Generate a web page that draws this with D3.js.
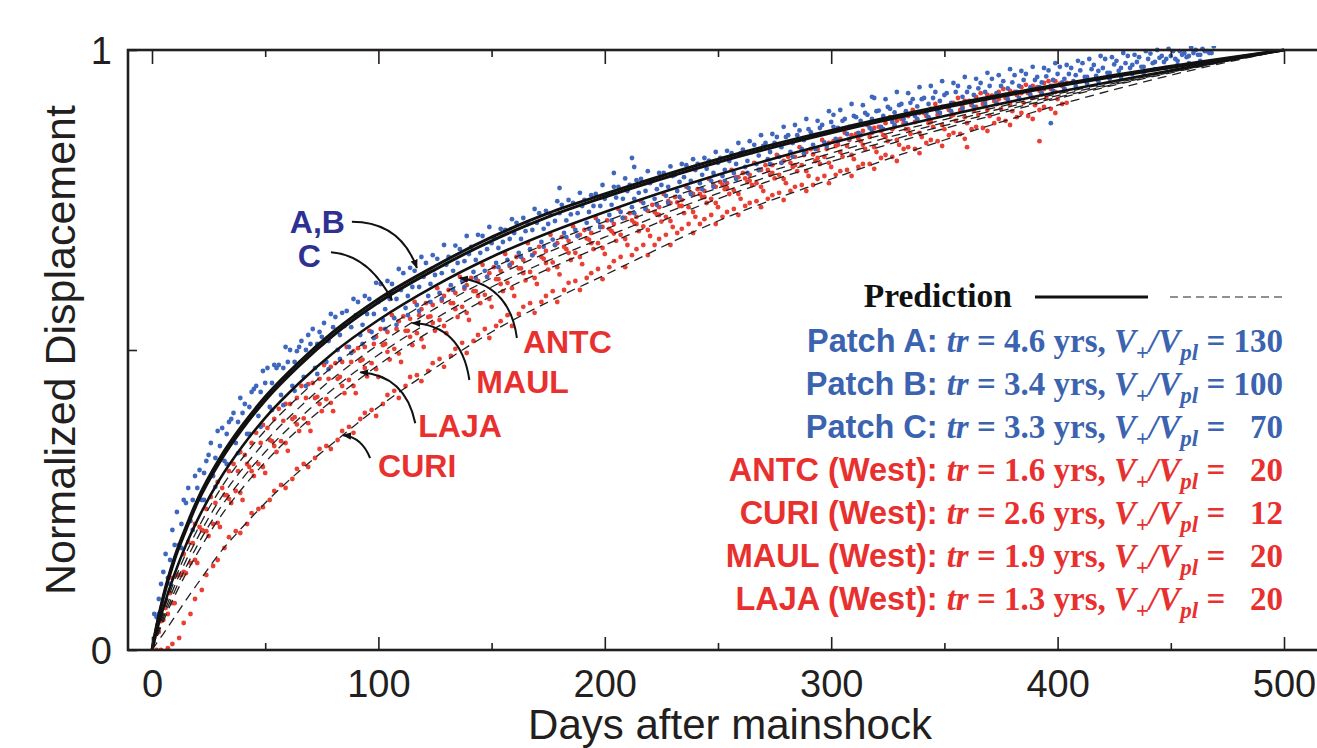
<!DOCTYPE html>
<html>
<head>
<meta charset="utf-8">
<script src="https://cdn.jsdelivr.net/npm/d3@7"></script>
<style>
  body { margin: 0; background: #fff; }
  svg { display: block; }
</style>
</head>
<body>
<svg width="1317" height="748"></svg>
<script>
/* Prediction curves at these days */
var predDays = [0, 2, 5, 10, 15, 20, 30, 40, 50, 65, 80, 100, 125, 150, 175, 200, 250, 300, 350, 400, 450, 500];
var predPatchA = [0, 0.040, 0.090, 0.155, 0.205, 0.250, 0.320, 0.375, 0.422, 0.480, 0.530, 0.585, 0.640, 0.688, 0.728, 0.760, 0.818, 0.866, 0.907, 0.942, 0.973, 1];
var predPatchB = [0, 0.038, 0.087, 0.151, 0.200, 0.245, 0.314, 0.369, 0.416, 0.474, 0.524, 0.579, 0.634, 0.682, 0.722, 0.755, 0.813, 0.862, 0.904, 0.940, 0.971, 1];
var predPatchC = [0, 0.030, 0.070, 0.127, 0.175, 0.216, 0.285, 0.340, 0.387, 0.445, 0.495, 0.550, 0.607, 0.655, 0.695, 0.730, 0.792, 0.845, 0.890, 0.930, 0.966, 1];
var predWest1 = [0, 0.027, 0.064, 0.116, 0.161, 0.200, 0.267, 0.320, 0.366, 0.423, 0.473, 0.528, 0.587, 0.636, 0.678, 0.714, 0.781, 0.836, 0.884, 0.927, 0.965, 1];
var predWest2 = [0, 0.025, 0.058, 0.107, 0.149, 0.186, 0.251, 0.302, 0.347, 0.404, 0.453, 0.509, 0.569, 0.620, 0.663, 0.701, 0.770, 0.828, 0.879, 0.924, 0.964, 1];
var predWest3 = [0, 0.022, 0.053, 0.098, 0.138, 0.174, 0.236, 0.286, 0.330, 0.386, 0.435, 0.492, 0.552, 0.605, 0.649, 0.688, 0.761, 0.821, 0.874, 0.921, 0.963, 1];
var predWest4 = [0, 0.020, 0.048, 0.090, 0.127, 0.161, 0.221, 0.270, 0.313, 0.369, 0.417, 0.475, 0.536, 0.590, 0.635, 0.675, 0.752, 0.814, 0.869, 0.919, 0.962, 1];
var predCURI = [0, 0.011, 0.027, 0.055, 0.083, 0.110, 0.162, 0.205, 0.245, 0.298, 0.345, 0.405, 0.470, 0.530, 0.580, 0.625, 0.715, 0.785, 0.850, 0.908, 0.958, 1];

/* Observed normalized displacement, [day, value] (two components per site) */
var patchA = [[1,.06],[6,.16],[11,.23],[16,.27],[21,.30],[26,.345],[31,.37],[36,.395],[41,.41],[46,.44],[51,.47],[56,.475],[61,.50],[66,.515],[71,.535],[76,.545],[81,.555],[86,.565],[91,.58],[96,.585],[101,.61],[106,.61],[111,.628],[116,.632],[121,.645],[126,.652],[131,.655],[136,.668],[141,.672],[146,.69],[151,.688],[156,.70],[161,.712],[166,.71],[171,.728],[176,.725],[181,.742],[186,.745],[191,.75],[196,.76],[201,.758],[206,.772],[211,.775],[216,.785],[221,.783],[226,.795],[231,.792],[236,.808],[241,.81],[246,.815],[251,.82],[256,.828],[261,.834],[266,.842],[271,.845],[276,.855],[281,.858],[286,.866],[291,.863],[296,.875],[301,.872],[306,.885],[311,.888],[316,.892],[321,.899],[326,.902],[331,.91],[336,.918],[341,.92],[346,.93],[351,.928],[356,.94],[361,.938],[366,.945],[371,.952],[376,.948],[381,.958],[386,.96],[391,.955],[396,.966],[401,.972],[406,.97],[411,.978],[416,.975],[421,.985],[426,.982],[431,.99],[436,.988],[441,.994],[446,.99],[451,.998],[456,.995],[461,1.0],[466,.998]];
var patchA2 = [[4,.11],[9,.2],[14,.25],[19,.29],[24,.315],[29,.365],[34,.38],[39,.42],[44,.43],[49,.465],[54,.475],[59,.505],[64,.498],[69,.525],[74,.53],[79,.56],[84,.562],[89,.585],[94,.59],[99,.612],[104,.615],[109,.635],[114,.637],[119,.655],[124,.658],[129,.675],[134,.674],[139,.69],[144,.692],[149,.705],[154,.702],[159,.718],[164,.72],[169,.735],[174,.732],[179,.748],[184,.75],[189,.762],[194,.758],[199,.775],[204,.772],[209,.786],[214,.783],[219,.798],[224,.795],[229,.806],[234,.81],[239,.818],[244,.82],[249,.83],[254,.832],[259,.845],[264,.848],[269,.858],[274,.86],[279,.872],[284,.875],[289,.885],[294,.882],[299,.898],[304,.9],[309,.91],[314,.908],[319,.92],[324,.918],[329,.93],[334,.928],[339,.938],[344,.94],[349,.948],[354,.945],[359,.955],[364,.952],[369,.962],[374,.958],[379,.968],[384,.965],[389,.972],[394,.97],[399,.978],[404,.975],[409,.982],[414,.985],[419,.99],[424,.988],[429,.995],[434,.992],[439,.998],[444,1.0],[449,1.002],[454,.998],[459,1.004],[464,1.002],[469,1.006]];
var patchB = [[3,.085],[8,.15],[13,.21],[18,.25],[23,.295],[28,.32],[33,.36],[38,.38],[43,.405],[48,.43],[53,.445],[58,.47],[63,.48],[68,.50],[73,.51],[78,.515],[83,.525],[88,.538],[93,.542],[98,.56],[103,.568],[108,.585],[113,.59],[118,.605],[123,.61],[128,.628],[133,.632],[138,.648],[143,.65],[148,.668],[153,.67],[158,.685],[163,.685],[168,.70],[173,.702],[178,.715],[183,.716],[188,.728],[193,.73],[198,.74],[203,.742],[208,.752],[213,.752],[218,.765],[223,.768],[228,.772],[233,.78],[238,.782],[243,.792],[248,.795],[253,.80],[258,.81],[263,.815],[268,.824],[273,.83],[278,.838],[283,.845],[288,.85],[293,.858],[298,.862],[303,.87],[308,.872],[313,.882],[318,.885],[323,.89],[328,.896],[333,.898],[338,.906],[343,.91],[348,.915],[353,.912],[358,.922],[363,.925],[368,.93],[373,.928],[378,.936],[383,.94],[388,.938],[393,.946],[398,.95],[403,.952],[408,.958],[413,.955],[418,.965],[423,.962],[428,.97],[433,.975],[438,.972],[443,.98],[448,.985],[453,.982],[458,.99],[463,.992],[468,.995]];
var patchB2 = [[5,.13],[10,.175],[15,.245],[20,.27],[25,.325],[30,.34],[35,.385],[40,.395],[45,.435],[50,.445],[55,.47],[60,.48],[65,.505],[70,.51],[75,.522],[80,.538],[85,.54],[90,.558],[95,.56],[100,.58],[105,.585],[110,.6],[115,.605],[120,.622],[125,.625],[130,.642],[135,.645],[140,.66],[145,.662],[150,.678],[155,.68],[160,.695],[165,.698],[170,.712],[175,.71],[180,.728],[185,.726],[190,.74],[195,.74],[200,.752],[205,.754],[210,.765],[215,.762],[220,.778],[225,.775],[230,.79],[235,.788],[240,.8],[245,.802],[250,.812],[255,.815],[260,.828],[265,.83],[270,.84],[275,.845],[280,.855],[285,.858],[290,.868],[295,.87],[300,.88],[305,.882],[310,.89],[315,.895],[320,.898],[325,.905],[330,.908],[335,.912],[340,.918],[345,.92],[350,.925],[355,.93],[360,.93],[365,.936],[370,.94],[375,.94],[380,.946],[385,.95],[390,.95],[395,.956],[400,.96],[405,.96],[410,.966],[415,.968],[420,.97],[425,.976],[430,.978],[435,.98],[440,.985],[445,.987],[450,.99],[455,.992],[460,.995],[465,.998]];
var patchC = [[2,.055],[7,.12],[12,.175],[17,.215],[22,.25],[27,.29],[32,.315],[37,.345],[42,.36],[47,.39],[52,.405],[57,.425],[62,.44],[67,.455],[72,.47],[77,.48],[82,.50],[87,.505],[92,.525],[97,.53],[102,.55],[107,.553],[112,.57],[117,.575],[122,.59],[127,.595],[132,.608],[137,.615],[142,.63],[147,.632],[152,.645],[157,.65],[162,.662],[167,.668],[172,.68],[177,.684],[182,.695],[187,.70],[192,.712],[197,.715],[202,.725],[207,.73],[212,.738],[217,.745],[222,.752],[227,.757],[232,.765],[237,.77],[242,.778],[247,.782],[252,.79],[257,.795],[262,.805],[267,.81],[272,.818],[277,.822],[282,.83],[287,.835],[292,.842],[297,.846],[302,.852],[307,.86],[312,.862],[317,.87],[322,.872],[327,.88],[332,.885],[337,.89],[342,.895],[347,.898],[352,.905],[357,.91],[362,.912],[367,.918],[372,.92],[377,.925],[382,.93],[387,.932],[392,.938],[397,.94],[402,.946],[407,.948],[412,.955],[417,.957],[422,.962],[427,.965],[432,.97],[437,.972],[442,.978],[447,.98],[452,.985],[457,.988],[462,.992],[467,.995]];
var patchC2 = [[3,.06],[8,.11],[13,.17],[18,.2],[23,.25],[28,.272],[33,.31],[38,.328],[43,.36],[48,.372],[53,.4],[58,.408],[63,.432],[68,.44],[73,.46],[78,.468],[83,.485],[88,.495],[93,.51],[98,.52],[103,.535],[108,.542],[113,.558],[118,.565],[123,.58],[128,.585],[133,.6],[138,.605],[143,.62],[148,.622],[153,.638],[158,.642],[163,.655],[168,.658],[173,.672],[178,.675],[183,.688],[188,.69],[193,.702],[198,.705],[203,.716],[208,.72],[213,.728],[218,.735],[223,.742],[228,.745],[233,.755],[238,.76],[243,.768],[248,.772],[253,.782],[258,.785],[263,.795],[268,.8],[273,.81],[278,.812],[283,.822],[288,.828],[293,.835],[298,.84],[303,.848],[308,.852],[313,.858],[318,.865],[323,.868],[328,.875],[333,.878],[338,.885],[343,.888],[348,.895],[353,.898],[358,.902],[363,.905],[368,.91],[373,.912],[378,.918],[383,.92],[388,.925],[393,.928],[398,.932],[403,.935],[408,.94],[413,.944],[418,.948],[423,.952],[428,.955],[433,.96],[438,.962],[443,.968],[448,.97],[453,.975],[458,.978],[463,.982]];
var patchOutliers = [[180,.77],[204,.795],[212,.82],[213,.805],[246,.815],[301,.892],[318,.922],[397,.878]];

var antc = [[1,.02],[6,.07],[11,.125],[16,.18],[21,.205],[26,.255],[31,.27],[36,.31],[41,.325],[46,.362],[51,.37],[56,.402],[61,.41],[66,.44],[71,.445],[76,.475],[81,.478],[86,.505],[91,.503],[96,.532],[101,.535],[106,.558],[111,.556],[116,.58],[121,.578],[126,.603],[131,.60],[136,.622],[141,.62],[146,.642],[151,.638],[156,.66],[161,.655],[166,.678],[171,.672],[176,.692],[181,.688],[186,.706],[191,.70],[196,.72],[201,.716],[206,.735],[211,.728],[216,.748],[221,.742],[226,.76],[231,.755],[236,.772],[241,.768],[246,.785],[251,.78],[256,.80],[261,.795],[266,.812],[271,.808],[276,.825],[281,.822],[286,.838],[291,.835],[296,.85],[301,.848],[306,.862],[311,.86],[316,.875],[321,.872],[326,.888],[331,.885],[336,.90],[341,.895],[346,.91],[351,.905],[356,.92],[361,.915],[366,.928],[371,.924],[376,.935],[381,.93],[386,.942],[391,.938],[396,.948],[401,.944]];
var antc2 = [[4,.055],[9,.12],[14,.16],[19,.21],[24,.235],[29,.28],[34,.298],[39,.33],[44,.345],[49,.375],[54,.385],[59,.41],[64,.42],[69,.443],[74,.452],[79,.472],[84,.48],[89,.498],[94,.505],[99,.522],[104,.53],[109,.548],[114,.552],[119,.568],[124,.575],[129,.59],[134,.595],[139,.608],[144,.615],[149,.628],[154,.632],[159,.645],[164,.65],[169,.662],[174,.665],[179,.678],[184,.682],[189,.692],[194,.695],[199,.705],[204,.71],[209,.72],[214,.722],[219,.732],[224,.738],[229,.745],[234,.75],[239,.76],[244,.765],[249,.772],[254,.778],[259,.788],[264,.792],[269,.8],[274,.808],[279,.815],[284,.822],[289,.83],[294,.835],[299,.845],[304,.852],[309,.858],[314,.865],[319,.87],[324,.878],[329,.882],[334,.89],[339,.895],[344,.902],[349,.905],[354,.912],[359,.915],[364,.922],[369,.925],[374,.93],[379,.932],[384,.938],[389,.94],[394,.945],[399,.948]];
var maul = [[3,.03],[8,.095],[13,.125],[18,.178],[23,.198],[28,.245],[33,.258],[38,.298],[43,.305],[48,.345],[53,.348],[58,.382],[63,.388],[68,.42],[73,.422],[78,.452],[83,.455],[88,.48],[93,.484],[98,.51],[103,.51],[108,.535],[113,.532],[118,.558],[123,.556],[128,.582],[133,.578],[138,.602],[143,.598],[148,.622],[153,.618],[158,.64],[163,.636],[168,.658],[173,.652],[178,.675],[183,.668],[188,.69],[193,.684],[198,.705],[203,.698],[208,.72],[213,.712],[218,.735],[223,.726],[228,.748],[233,.74],[238,.762],[243,.755],[248,.775],[253,.768],[258,.788],[263,.78],[268,.80],[273,.792],[278,.812],[283,.805],[288,.825],[293,.815],[298,.835],[303,.842],[308,.85],[313,.848],[318,.862],[323,.858],[328,.872],[333,.868],[338,.884],[343,.878],[348,.895],[353,.89],[358,.905],[363,.90],[368,.915],[373,.91],[378,.925],[383,.918],[388,.932],[393,.926],[398,.94],[403,.935]];
var maul2 = [[2,.03],[7,.06],[12,.125],[17,.145],[22,.2],[27,.21],[32,.258],[37,.265],[42,.31],[47,.31],[52,.35],[57,.348],[62,.385],[67,.386],[72,.42],[77,.418],[82,.452],[87,.45],[92,.482],[97,.478],[102,.508],[107,.502],[112,.532],[117,.528],[122,.555],[127,.55],[132,.578],[137,.572],[142,.598],[147,.592],[152,.618],[157,.612],[162,.636],[167,.63],[172,.655],[177,.646],[182,.672],[187,.662],[192,.686],[197,.678],[202,.702],[207,.692],[212,.716],[217,.706],[222,.73],[227,.722],[232,.746],[237,.738],[242,.76],[247,.752],[252,.775],[257,.766],[262,.786],[267,.778],[272,.8],[277,.792],[282,.812],[287,.808],[292,.826],[297,.822],[302,.84],[307,.84],[312,.852],[317,.855],[322,.865],[327,.868],[332,.878],[337,.88],[342,.89],[347,.892],[352,.9],[357,.9],[362,.908],[367,.91],[372,.915],[377,.92],[382,.925],[387,.928],[392,.932],[397,.935],[402,.94]];
var laja = [[4,.048],[9,.078],[14,.13],[19,.15],[24,.198],[29,.212],[34,.252],[39,.262],[44,.298],[49,.305],[54,.34],[59,.345],[64,.376],[69,.378],[74,.41],[79,.412],[84,.44],[89,.44],[94,.47],[99,.468],[104,.497],[109,.494],[114,.522],[119,.518],[124,.545],[129,.54],[134,.568],[139,.562],[144,.59],[149,.585],[154,.61],[159,.603],[164,.628],[169,.62],[174,.645],[179,.638],[184,.662],[189,.655],[194,.678],[199,.67],[204,.694],[209,.685],[214,.71],[219,.70],[224,.725],[229,.715],[234,.74],[239,.73],[244,.755],[249,.745],[254,.77],[259,.76],[264,.782],[269,.772],[274,.795],[279,.785],[284,.808],[289,.798],[294,.82],[299,.812],[304,.83],[309,.825],[314,.842],[319,.838],[324,.855],[329,.85],[334,.868],[339,.862],[344,.88],[349,.875],[354,.892],[359,.888],[364,.905],[369,.90],[374,.918],[379,.91],[384,.928],[389,.92],[394,.935],[399,.93],[404,.945]];
var laja2 = [[5,.05],[10,.078],[15,.128],[20,.145],[25,.19],[30,.205],[35,.245],[40,.25],[45,.29],[50,.295],[55,.33],[60,.332],[65,.365],[70,.365],[75,.398],[80,.398],[85,.428],[90,.428],[95,.456],[100,.455],[105,.484],[110,.48],[115,.508],[120,.505],[125,.532],[130,.528],[135,.555],[140,.55],[145,.578],[150,.572],[155,.598],[160,.59],[165,.616],[170,.61],[175,.634],[180,.626],[185,.65],[190,.643],[195,.668],[200,.66],[205,.682],[210,.675],[215,.698],[220,.69],[225,.714],[230,.705],[235,.728],[240,.722],[245,.745],[250,.738],[255,.76],[260,.752],[265,.775],[270,.765],[275,.786],[280,.778],[285,.798],[290,.79],[295,.81],[300,.805],[305,.822],[310,.818],[315,.835],[320,.83],[325,.848],[330,.842],[335,.86],[340,.855],[345,.872],[350,.868],[355,.882],[360,.878],[365,.892],[370,.89],[375,.902],[380,.898],[385,.912],[390,.908],[395,.92],[400,.918]];
var curi = [[2,0],[7,.003],[12,.02],[17,.06],[22,.10],[27,.14],[32,.17],[37,.198],[42,.21],[47,.235],[52,.25],[57,.275],[62,.285],[67,.31],[72,.32],[77,.34],[82,.35],[87,.372],[92,.385],[97,.40],[102,.41],[107,.432],[112,.44],[117,.458],[122,.465],[127,.485],[132,.49],[137,.512],[142,.515],[147,.535],[152,.54],[157,.558],[162,.56],[167,.578],[172,.58],[177,.598],[182,.60],[187,.615],[192,.62],[197,.635],[202,.638],[207,.655],[212,.658],[217,.675],[222,.675],[227,.692],[232,.695],[237,.71],[242,.71],[247,.725],[252,.722],[257,.735],[262,.74],[267,.748],[272,.752],[277,.762],[282,.765],[287,.775],[292,.775],[297,.79],[302,.792],[307,.80],[312,.805],[317,.81],[322,.82],[327,.822],[332,.835],[337,.835],[342,.845],[347,.848],[352,.858],[357,.86],[362,.868],[367,.87],[372,.878],[377,.882],[382,.888],[387,.89],[392,.90],[397,.902],[402,.91]];
var curi2 = [[4,0],[9,.01],[14,.045],[19,.085],[24,.125],[29,.15],[34,.188],[39,.195],[44,.228],[49,.238],[54,.265],[59,.27],[64,.302],[69,.305],[74,.335],[79,.335],[84,.365],[89,.362],[94,.395],[99,.39],[104,.425],[109,.42],[114,.455],[119,.448],[124,.478],[129,.472],[134,.502],[139,.495],[144,.525],[149,.52],[154,.548],[159,.54],[164,.572],[169,.562],[174,.59],[179,.58],[184,.612],[189,.6],[194,.628],[199,.618],[204,.648],[209,.638],[214,.668],[219,.658],[224,.685],[229,.675],[234,.702],[239,.695],[244,.718],[249,.71],[254,.73],[259,.725],[264,.745],[269,.738],[274,.758],[279,.75],[284,.772],[289,.765],[294,.785],[299,.778],[304,.798],[309,.79],[314,.81],[319,.802],[324,.825],[329,.815],[334,.838],[339,.828],[344,.85],[349,.84],[354,.862],[359,.852],[364,.872],[369,.865],[374,.885],[379,.875],[384,.895],[389,.885],[394,.905],[399,.895],[404,.912]];
var westOutliers = [[360,.838],[392,.848]];

/* Legend table */
var legendNames = ["Patch A", "Patch B", "Patch C", "ANTC (West)", "CURI (West)", "MAUL (West)", "LAJA (West)"];
var legendTr = ["4.6", "3.4", "3.3", "1.6", "2.6", "1.9", "1.3"];
var legendRatio = [130, 100, 70, 20, 12, 20, 20];
var legendEast = [true, true, true, false, false, false, false];

var xTicks = [0, 100, 200, 300, 400, 500];
var xMinorTicks = [50, 150, 250, 350, 450];

var blueDot = "#3f67bd", redDot = "#ea3f33",
    blueText = "#3b63b0", redText = "#e8312f", navy = "#2e3192";

var svg = d3.select("svg");

var x = d3.scaleLinear().domain([0, 500]).range([152, 1284]),
    y = d3.scaleLinear().domain([0, 1]).range([650, 50]);

var sans = "'Liberation Sans', Arial, Helvetica, sans-serif",
    serif = "'Liberation Serif', 'Times New Roman', serif";

svg.append("rect").attr("width", 1317).attr("height", 748).attr("fill", "#fff");

svg.append("defs").append("clipPath").attr("id", "plot")
  .append("rect").attr("x", 128).attr("y", 46).attr("width", 1200).attr("height", 604);

svg.select("defs").append("marker")
    .attr("id", "head")
    .attr("viewBox", "0 0 10 10")
    .attr("refX", 9).attr("refY", 5)
    .attr("markerWidth", 9).attr("markerHeight", 9)
    .attr("markerUnits", "userSpaceOnUse")
    .attr("orient", "auto")
  .append("path").attr("d", "M0,1 L10,5 L0,9 Z").attr("fill", "#111");

var plot = svg.append("g").attr("clip-path", "url(#plot)");

/* dots */
function dots(data, color) {
  plot.append("g").selectAll("circle")
    .data(data)
    .enter().append("circle")
      .attr("cx", function(d) { return x(d[0]); })
      .attr("cy", function(d) { return y(d[1]); })
      .attr("r", 2.4)
      .attr("fill", color);
}
[antc, antc2, maul, maul2, laja, laja2, curi, curi2, westOutliers].forEach(function(s) { dots(s, redDot); });
[patchA, patchA2, patchB, patchB2, patchC, patchC2, patchOutliers].forEach(function(s) { dots(s, blueDot); });

/* prediction curves */
var line = d3.line()
    .x(function(d, i) { return x(predDays[i]); })
    .y(function(d) { return y(d); })
    .curve(d3.curveMonotoneX);

[predWest1, predWest2, predWest3, predWest4, predCURI].forEach(function(s) {
  plot.append("path").attr("d", line(s))
    .attr("fill", "none").attr("stroke", "#222")
    .attr("stroke-width", 1.3).attr("stroke-dasharray", "9,6");
});
plot.append("path").attr("d", line(predPatchC))
  .attr("fill", "none").attr("stroke", "#111").attr("stroke-width", 2.6);
[predPatchB, predPatchA].forEach(function(s) {
  plot.append("path").attr("d", line(s))
    .attr("fill", "none").attr("stroke", "#111").attr("stroke-width", 3);
});

/* frame and ticks */
svg.append("rect")
  .attr("x", 128).attr("y", 50).attr("width", 1260).attr("height", 600)
  .attr("fill", "none").attr("stroke", "#231f20").attr("stroke-width", 2.6);

function tickStyle(g) {
  g.select(".domain").remove();
  g.selectAll(".tick line").attr("stroke", "#231f20").attr("stroke-width", 1.6);
}

svg.append("g").attr("transform", "translate(0,650)")
  .call(d3.axisBottom(x).tickValues(xTicks).tickSize(-13).tickPadding(20))
  .call(tickStyle)
  .call(function(g) {
    g.selectAll("text").attr("font-family", sans).attr("font-size", 38)
      .attr("fill", "#231f20").attr("dy", "0.71em");
  });
svg.append("g").attr("transform", "translate(0,650)")
  .call(d3.axisBottom(x).tickValues(xMinorTicks).tickSize(-7).tickFormat(""))
  .call(tickStyle);
svg.append("g").attr("transform", "translate(0,50)")
  .call(d3.axisTop(x).tickValues(xTicks).tickSize(-14).tickFormat(""))
  .call(tickStyle);
svg.append("g").attr("transform", "translate(0,50)")
  .call(d3.axisTop(x).tickValues(xMinorTicks).tickSize(-7).tickFormat(""))
  .call(tickStyle);
svg.append("g").attr("transform", "translate(128,0)")
  .call(d3.axisLeft(y).tickValues([0, 0.5, 1]).tickSize(-9).tickPadding(16)
    .tickFormat(function(d) { return d === 0.5 ? "" : d; }))
  .call(tickStyle)
  .call(function(g) {
    g.selectAll("text").attr("font-family", sans).attr("font-size", 38)
      .attr("fill", "#231f20").attr("dy", "0.35em");
  });

/* axis titles */
svg.append("text")
  .attr("x", 730).attr("y", 739)
  .attr("text-anchor", "middle")
  .attr("font-family", sans).attr("font-size", 42).attr("fill", "#231f20")
  .text("Days after mainshock");
svg.append("text")
  .attr("transform", "translate(75,350) rotate(-90)")
  .attr("text-anchor", "middle")
  .attr("font-family", sans).attr("font-size", 43).attr("fill", "#231f20")
  .text("Normalized Displacement");

/* curve labels with arrows; tips sit on the data */
var notes = [
  {text: "A,B",  color: navy,    day: 117,  val: 0.637, anchor: "end",   lx: -72, ly: -35, sx: -65, sy: -46, cx: -17, cy: -46},
  {text: "C",    color: navy,    day: 106,  val: 0.583, anchor: "end",   lx: -71, ly: -33, sx: -61, sy: -48, cx: -23, cy: -45},
  {text: "ANTC", color: redText, day: 136,  val: 0.620, anchor: "start", lx: 63,  ly: 75,  sx: 57,  sy: 60,  cx: 50,  cy: 7},
  {text: "MAUL", color: redText, day: 115,  val: 0.545, anchor: "start", lx: 64,  ly: 70,  sx: 57,  sy: 57,  cx: 49,  cy: 2},
  {text: "LAJA", color: redText, day: 92,   val: 0.463, anchor: "start", lx: 58,  ly: 65,  sx: 55,  sy: 51,  cx: 45,  cy: 3},
  {text: "CURI", color: redText, day: 84.4, val: 0.358, anchor: "start", lx: 35,  ly: 42,  sx: 27,  sy: 23,  cx: 19,  cy: 2}
];
notes.forEach(function(n) {
  var tx = x(n.day), ty = y(n.val);
  var p = d3.path();
  p.moveTo(tx + n.sx, ty + n.sy);
  p.quadraticCurveTo(tx + n.cx, ty + n.cy, tx, ty);
  svg.append("path").attr("d", p.toString())
    .attr("fill", "none").attr("stroke", "#111").attr("stroke-width", 2)
    .attr("marker-end", "url(#head)");
  svg.append("text")
    .attr("x", tx + n.lx).attr("y", ty + n.ly)
    .attr("text-anchor", n.anchor)
    .attr("font-family", sans).attr("font-weight", "bold").attr("font-size", 32)
    .attr("fill", n.color)
    .text(n.text);
});

/* legend */
var legX = 1283;
svg.append("text")
  .attr("x", 1012).attr("y", 307).attr("text-anchor", "end")
  .attr("font-family", serif).attr("font-weight", "bold").attr("font-size", 33.5)
  .attr("fill", "#111").text("Prediction");
svg.append("line").attr("x1", 1035).attr("x2", 1148).attr("y1", 297).attr("y2", 297)
  .attr("stroke", "#111").attr("stroke-width", 3);
svg.append("line").attr("x1", 1170).attr("x2", 1285).attr("y1", 297).attr("y2", 297)
  .attr("stroke", "#222").attr("stroke-width", 1.2).attr("stroke-dasharray", "8,5");

legendNames.forEach(function(name, i) {
  var col = legendEast[i] ? blueText : redText;
  var r = String(legendRatio[i]);
  if (r.length < 3) r = "\u00a0\u00a0" + r;
  var t = svg.append("text")
    .attr("x", legX).attr("y", 352 + i * 43)
    .attr("text-anchor", "end")
    .attr("fill", col)
    .attr("font-weight", "bold")
    .attr("font-size", 33)
    .attr("font-family", serif);
  t.append("tspan").attr("font-family", sans).attr("font-size", 32.5).text(name + ": ");
  t.append("tspan").attr("font-style", "italic").text("tr");
  t.append("tspan").text(" = " + legendTr[i] + " yrs, ");
  t.append("tspan").attr("font-style", "italic").text("V");
  t.append("tspan").attr("font-size", 23).attr("dy", 8).text("+");
  t.append("tspan").attr("font-style", "italic").attr("dy", -8).text("/V");
  t.append("tspan").attr("font-style", "italic").attr("font-size", 23).attr("dy", 8).text("pl");
  t.append("tspan").attr("dy", -8).text(" = " + r);
});
</script>
</body>
</html>
